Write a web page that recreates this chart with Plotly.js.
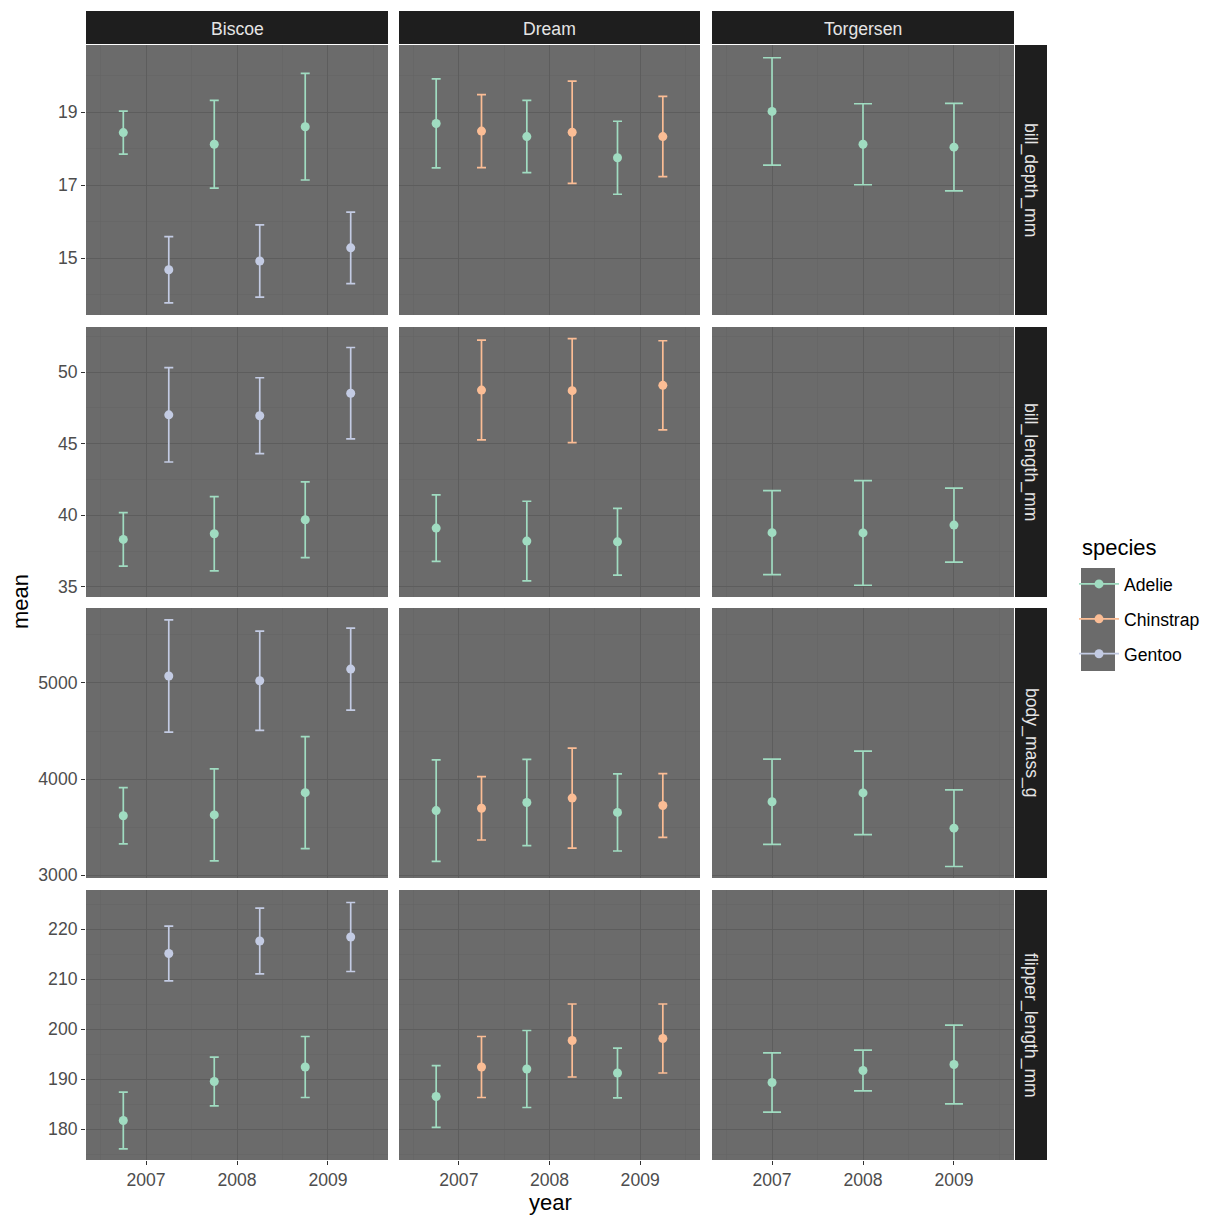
<!DOCTYPE html>
<html>
<head>
<meta charset="utf-8">
<script src="https://cdn.plot.ly/plotly-3.0.1.min.js"></script>
<style>
  html, body { margin: 0; padding: 0; background: #ffffff; }
  #chart { width: 1224px; height: 1224px; }
</style>
</head>
<body>
<div id="chart"></div>
<script>
// facets
const islands = ["Biscoe", "Dream", "Torgersen"];
const variables = ["bill_depth_mm", "bill_length_mm", "body_mass_g", "flipper_length_mm"];
const years = [2007, 2008, 2009];
const species = ["Adelie", "Chinstrap", "Gentoo"];
const speciesColors = ["#a0dcc1", "#fbbd95", "#c3cbe3"];

// means and sd, indexed [variable][year]
const adelieBiscoeMean = [[18.44, 18.12, 18.60], [38.32, 38.71, 39.69], [3617, 3626, 3858], [181.7, 189.5, 192.4]];
const adelieBiscoeSd = [[0.59, 1.20, 1.46], [1.87, 2.59, 2.64], [293, 479, 584], [5.67, 4.87, 6.10]];
const adelieDreamMean = [[18.69, 18.33, 17.75], [39.11, 38.20, 38.15], [3671, 3755, 3652], [186.5, 192.0, 191.2]];
const adelieDreamSd = [[1.22, 0.99, 1.00], [2.32, 2.78, 2.33], [529, 449, 402], [6.17, 7.70, 4.97]];
const adelieTorgersenMean = [[19.02, 18.12, 18.04], [38.79, 38.77, 39.32], [3763, 3855, 3488], [189.3, 191.7, 192.9]];
const adelieTorgersenSd = [[1.47, 1.11, 1.20], [2.93, 3.65, 2.58], [444, 435, 399], [5.93, 4.07, 7.87]];
const chinstrapDreamMean = [[18.48, 18.45, 18.33], [48.74, 48.70, 49.07], [3695, 3801, 3724], [192.4, 197.7, 198.1]];
const chinstrapDreamSd = [[1.00, 1.40, 1.10], [3.48, 3.63, 3.11], [330, 520, 332], [6.10, 7.30, 6.90]];
const gentooBiscoeMean = [[14.68, 14.92, 15.28], [47.01, 46.95, 48.52], [5073, 5023, 5145], [215.1, 217.6, 218.4]];
const gentooBiscoeSd = [[0.91, 0.99, 0.98], [3.29, 2.65, 3.19], [585, 517, 427], [5.47, 6.57, 6.90]];

// which species lives on which island
const islandSeries = [
    [{ sp: 0, mean: adelieBiscoeMean, sd: adelieBiscoeSd }, { sp: 2, mean: gentooBiscoeMean, sd: gentooBiscoeSd }],
    [{ sp: 0, mean: adelieDreamMean, sd: adelieDreamSd }, { sp: 1, mean: chinstrapDreamMean, sd: chinstrapDreamSd }],
    [{ sp: 0, mean: adelieTorgersenMean, sd: adelieTorgersenSd }]
];

// per-row y ranges and tick steps
const yRanges = [[13.44, 20.84], [34.3, 53.14], [2969, 5781], [173.8, 227.8]];
const yDticks = [2, 5, 1000, 10];
const yTick0 = [15, 35, 3000, 180];

const W = 1224, H = 1224;
const colPx = [[86, 388], [399, 700], [712, 1014]];
const rowPx = [[45, 315], [327, 597], [608, 878], [890, 1160]];
const px = v => v / W;
const py = v => 1 - v / H;

const font = "Liberation Sans, Arial, sans-serif";
const majorGrid = "#5c5c5c";
const minorGrid = "#636363";

const traces = [];
const layout = {
    width: W, height: H,
    margin: { l: 0, r: 0, t: 0, b: 0 },
    paper_bgcolor: "#ffffff",
    plot_bgcolor: "#6b6b6b",
    font: { family: font, size: 17.6, color: "#4d4d4d" },
    showlegend: true,
    legend: {
        x: px(1074), y: py(566), xanchor: "left", yanchor: "top",
        bgcolor: "rgba(0,0,0,0)",
        font: { size: 17.6, color: "#000000" },
        tracegroupgap: 9,
        itemwidth: 40
    },
    shapes: [],
    annotations: []
};

for (let r = 0; r < variables.length; r++) {
    for (let c = 0; c < islands.length; c++) {
        const idx = r * islands.length + c + 1;
        const xa = "xaxis" + (idx === 1 ? "" : idx);
        const ya = "yaxis" + (idx === 1 ? "" : idx);
        const xRef = "x" + (idx === 1 ? "" : idx);
        const yRef = "y" + (idx === 1 ? "" : idx);
        const bottom = r === variables.length - 1;
        const left = c === 0;

        layout[xa] = {
            domain: [px(colPx[c][0]), px(colPx[c][1])],
            anchor: yRef,
            range: [2006.34, 2009.66],
            tickmode: "linear", tick0: 2007, dtick: 1,
            showgrid: true, gridcolor: majorGrid, gridwidth: 0.9,
            minor: { tick0: 2006.5, dtick: 0.5, showgrid: true, gridcolor: minorGrid, gridwidth: 0.5 },
            zeroline: false,
            showticklabels: bottom,
            ticks: bottom ? "outside" : "",
            ticklen: 4, tickcolor: "#333333",
            tickfont: { size: 17.6, color: "#4d4d4d" }
        };
        layout[ya] = {
            domain: [py(rowPx[r][1]), py(rowPx[r][0])],
            anchor: xRef,
            range: yRanges[r],
            tickmode: "linear", tick0: yTick0[r], dtick: yDticks[r],
            showgrid: true, gridcolor: majorGrid, gridwidth: 0.9,
            minor: { tick0: yTick0[r] - yDticks[r] / 2, dtick: yDticks[r] / 2, showgrid: true, gridcolor: minorGrid, gridwidth: 0.5 },
            zeroline: false,
            showticklabels: left,
            ticks: left ? "outside" : "",
            ticklen: 4, tickcolor: "#333333",
            tickfont: { size: 17.6, color: "#4d4d4d" }
        };

        const series = islandSeries[c];
        series.forEach((s, k) => {
            const off = series.length > 1 ? (k === 0 ? -0.25 : 0.25) : 0;
            const color = speciesColors[s.sp];
            traces.push({
                type: "scatter", mode: "markers",
                x: years.map(y => y + off),
                y: s.mean[r],
                xaxis: xRef, yaxis: yRef,
                marker: { color: color, size: 9 },
                error_y: { type: "data", array: s.sd[r], visible: true, color: color, thickness: 1.7, width: series.length > 1 ? 4.5 : 9 },
                name: species[s.sp],
                showlegend: false,
                hoverinfo: "x+y"
            });
        });
    }
}

// legend entries
species.forEach((sp, i) => {
    traces.push({
        type: "scatter", mode: "lines+markers",
        x: [null], y: [null],
        xaxis: "x", yaxis: "y",
        name: sp,
        legendgroup: sp,
        line: { color: speciesColors[i], width: 1.7 },
        marker: { color: speciesColors[i], size: 9 },
        showlegend: true
    });
});

// strips on top
islands.forEach((isl, c) => {
    layout.shapes.push({
        type: "rect", xref: "paper", yref: "paper",
        x0: px(colPx[c][0]), x1: px(colPx[c][1]), y0: py(44), y1: py(11),
        fillcolor: "#1e1e1e", line: { width: 0 }, layer: "below"
    });
    layout.annotations.push({
        xref: "paper", yref: "paper",
        x: px((colPx[c][0] + colPx[c][1]) / 2), y: py(28.5),
        text: isl, showarrow: false,
        xanchor: "center", yanchor: "middle",
        font: { size: 17.6, color: "#e5e5e5", family: font }
    });
});

// strips on the right
variables.forEach((v, r) => {
    layout.shapes.push({
        type: "rect", xref: "paper", yref: "paper",
        x0: px(1015), x1: px(1047), y0: py(rowPx[r][1]), y1: py(rowPx[r][0]),
        fillcolor: "#1e1e1e", line: { width: 0 }, layer: "below"
    });
    layout.annotations.push({
        xref: "paper", yref: "paper",
        x: px(1031), y: py((rowPx[r][0] + rowPx[r][1]) / 2),
        text: v, showarrow: false, textangle: 90,
        xanchor: "center", yanchor: "middle",
        font: { size: 17.6, color: "#e5e5e5", family: font }
    });
});

// legend key background
layout.shapes.push({
    type: "rect", xref: "paper", yref: "paper",
    x0: px(1081), x1: px(1115), y0: py(671), y1: py(568),
    fillcolor: "#6b6b6b", line: { width: 0 }, layer: "below"
});

// legend title
layout.annotations.push({
    xref: "paper", yref: "paper",
    x: px(1080), y: py(547),
    text: "species", showarrow: false, xanchor: "left", yanchor: "middle",
    font: { size: 22, color: "#000000", family: font }
});

// axis titles
layout.annotations.push({
    xref: "paper", yref: "paper",
    x: px(550), y: py(1202),
    text: "year", showarrow: false, xanchor: "center", yanchor: "middle",
    font: { size: 22, color: "#000000", family: font }
});
layout.annotations.push({
    xref: "paper", yref: "paper",
    x: px(20), y: py(602),
    text: "mean", showarrow: false, textangle: -90, xanchor: "center", yanchor: "middle",
    font: { size: 22, color: "#000000", family: font }
});

Plotly.newPlot("chart", traces, layout, { displayModeBar: false, staticPlot: true });
</script>
</body>
</html>
